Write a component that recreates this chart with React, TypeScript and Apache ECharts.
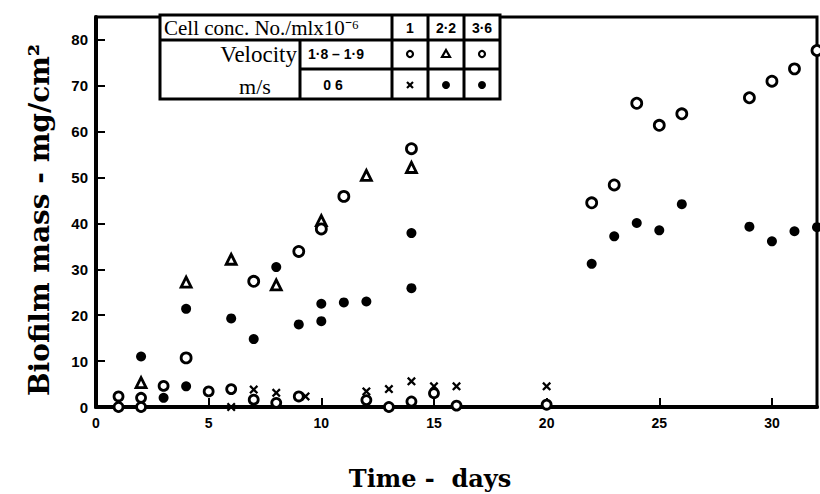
import React, { useEffect, useRef } from "react";
import * as echarts from "echarts";

// ---- data (day, biofilm mass mg/cm²) ----
const xTicks = [0, 5, 10, 15, 20, 25, 30];
const yTicks = [0, 10, 20, 30, 40, 50, 60, 70, 80];

// velocity 1.8–1.9 m/s, conc 1  (open circles, low)
const highVelConc1: [number, number][] = [
  [1, 2.3], [1, 0], [2, 2], [2, 0], [3, 4.6], [5, 3.4], [6, 3.9], [7, 1.6],
  [8, 0.9], [9, 2.3], [12, 1.5], [13, 0], [14, 1.2], [15, 3], [16, 0.3], [20, 0.5],
];
// velocity 1.8–1.9 m/s, conc 2.2 (open triangles)
const highVelConc22: [number, number][] = [
  [2, 5.3], [4, 27.2], [6, 32.2], [8, 26.6], [10, 40.6], [12, 50.5], [14, 52.2],
];
// velocity 1.8–1.9 m/s, conc 3.6 (open circles, high)
const highVelConc36: [number, number][] = [
  [4, 10.7], [7, 27.4], [9, 33.9], [10, 38.8], [11, 45.9], [14, 56.3], [22, 44.5],
  [23, 48.4], [24, 66.2], [25, 61.4], [26, 63.9], [29, 67.4], [30, 71], [31, 73.7], [32, 77.7],
];
// velocity 0.6 m/s, conc 1 (crosses)
const lowVelConc1: [number, number][] = [
  [6, 0], [7, 3.8], [8, 3.1], [9.3, 2.3], [12, 3.4], [13, 3.9], [14, 5.6], [15, 4.5], [16, 4.5], [20, 4.5],
];
// velocity 0.6 m/s, conc 2.2 (filled circles)
const lowVelConc22: [number, number][] = [
  [2, 11], [3, 2], [4, 4.5], [6, 19.3], [8, 30.5], [10, 22.5], [12, 23], [14, 37.9],
];
// velocity 0.6 m/s, conc 3.6 (filled circles)
const lowVelConc36: [number, number][] = [
  [4, 21.4], [7, 14.8], [9, 18], [10, 18.7], [11, 22.8], [14, 25.9], [22, 31.2], [23, 37.2],
  [24, 40.1], [25, 38.5], [26, 44.2], [29, 39.3], [30, 36.1], [31, 38.3], [32, 39.2],
];

const CROSS =
  "path://M0,1.8L1.8,0L5,3.2L8.2,0L10,1.8L6.8,5L10,8.2L8.2,10L5,6.8L1.8,10L0,8.2L3.2,5Z";

export default function App() {
  const ref = useRef<HTMLDivElement>(null);
  useEffect(() => {
    if (!ref.current) return;
    const chart = echarts.init(ref.current, null, { renderer: "svg", width: 820, height: 494 });
    const openCircle = { color: "#fff", borderColor: "#000", borderWidth: 2.8, opacity: 1 };
    const filled = { color: "#000", opacity: 1 };
    const tickFont = { fontFamily: "Liberation Sans", fontWeight: "bold" as const, color: "#000" };
    const serif = "Liberation Serif";
    const sans = "Liberation Sans";
    const T = 3; // table line width
    const tx0 = 160, tx1 = 500, ty0 = 15, ty1 = 99;
    const colX = [392, 428, 464];
    const colC = [410, 446, 482];
    const row2Y = 54, row3Y = 85;
    const emph = { disabled: true };
    chart.setOption({
      animation: false,
      backgroundColor: "#fff",
      grid: {
        left: 96, right: 2, top: 17, bottom: 87,
        show: true, borderColor: "#000", borderWidth: 3,
      },
      xAxis: {
        type: "value", min: 0, max: 32, interval: 5,
        axisLine: { lineStyle: { color: "#000", width: 4 } },
        axisTick: { inside: true, length: 9, lineStyle: { color: "#000", width: 2 } },
        axisLabel: {
          ...tickFont, fontSize: 14, margin: 9,
          formatter: (v: number) => (xTicks.includes(v) ? String(v) : ""),
        },
        splitLine: { show: false },
      },
      yAxis: {
        type: "value", min: 0, max: 85, interval: 10,
        axisLine: { lineStyle: { color: "#000", width: 4 } },
        axisTick: { inside: true, length: 9, lineStyle: { color: "#000", width: 2 } },
        axisLabel: {
          ...tickFont, fontSize: 15, margin: 8,
          formatter: (v: number) => (yTicks.includes(v) ? String(v) : ""),
        },
        splitLine: { show: false },
      },
      series: [
        { type: "scatter", name: "1.8–1.9 m/s, 1", data: highVelConc1, symbol: "circle", symbolSize: 9, itemStyle: openCircle, clip: false, emphasis: emph },
        { type: "scatter", name: "1.8–1.9 m/s, 2.2", data: highVelConc22, symbol: "triangle", symbolSize: 10, itemStyle: openCircle, clip: false, emphasis: emph },
        { type: "scatter", name: "1.8–1.9 m/s, 3.6", data: highVelConc36, symbol: "circle", symbolSize: 10, itemStyle: openCircle, clip: false, emphasis: emph },
        { type: "scatter", name: "0.6 m/s, 1", data: lowVelConc1, symbol: CROSS, symbolSize: 9, itemStyle: filled, clip: false, emphasis: emph },
        { type: "scatter", name: "0.6 m/s, 2.2", data: lowVelConc22, symbol: "circle", symbolSize: 10, itemStyle: filled, clip: false, emphasis: emph },
        { type: "scatter", name: "0.6 m/s, 3.6", data: lowVelConc36, symbol: "circle", symbolSize: 10, itemStyle: filled, clip: false, emphasis: emph },
      ],
      graphic: [
        // axis titles
        {
          type: "text", x: 39, y: 220, rotation: Math.PI / 2,
          style: {
            text: "Biofilm mass - mg/cm²", fontFamily: "DejaVu Serif", fontWeight: "bold",
            fontSize: 28, fill: "#000", align: "center", verticalAlign: "middle",
          },
        },
        {
          type: "text", x: 430, y: 478,
          style: {
            text: "Time -  days", fontFamily: "DejaVu Serif", fontWeight: "bold",
            fontSize: 24, fill: "#000", align: "center", verticalAlign: "middle",
          },
        },
        // legend table
        {
          type: "rect", z: 10,
          shape: { x: tx0, y: ty0, width: tx1 - tx0, height: ty1 - ty0 },
          style: { fill: "#fff", stroke: "#000", lineWidth: T },
        },
        { type: "line", z: 11, shape: { x1: tx0, y1: 40, x2: tx1, y2: 40 }, style: { stroke: "#000", lineWidth: T } },
        { type: "line", z: 11, shape: { x1: 300, y1: 69, x2: tx1, y2: 69 }, style: { stroke: "#000", lineWidth: T } },
        { type: "line", z: 11, shape: { x1: 300, y1: 40, x2: 300, y2: ty1 }, style: { stroke: "#000", lineWidth: T } },
        ...colX.map((cx) => ({
          type: "line", z: 11, shape: { x1: cx, y1: ty0, x2: cx, y2: ty1 }, style: { stroke: "#000", lineWidth: T },
        })),
        {
          type: "text", z: 12, x: 164, y: 28,
          style: { text: "Cell conc. No./mlx10⁻⁶", fontFamily: serif, fontSize: 21, fill: "#000", align: "left", verticalAlign: "middle" },
        },
        ...["1", "2·2", "3·6"].map((t, i) => ({
          type: "text", z: 12, x: colC[i], y: 28,
          style: { text: t, fontFamily: sans, fontWeight: "bold", fontSize: 14, fill: "#000", align: "center", verticalAlign: "middle" },
        })),
        {
          type: "text", z: 12, x: 297, y: 54,
          style: { text: "Velocity", fontFamily: serif, fontSize: 23, fill: "#000", align: "right", verticalAlign: "middle" },
        },
        {
          type: "text", z: 12, x: 255, y: 86,
          style: { text: "m/s", fontFamily: serif, fontSize: 22, fill: "#000", align: "center", verticalAlign: "middle" },
        },
        {
          type: "text", z: 12, x: 336, y: 54,
          style: { text: "1·8 – 1·9", fontFamily: sans, fontWeight: "bold", fontSize: 14, fill: "#000", align: "center", verticalAlign: "middle" },
        },
        {
          type: "text", z: 12, x: 333, y: 85,
          style: { text: "0 6", fontFamily: sans, fontWeight: "bold", fontSize: 14, fill: "#000", align: "center", verticalAlign: "middle" },
        },
        // legend symbols
        { type: "circle", z: 12, shape: { cx: colC[0], cy: row2Y, r: 3 }, style: { fill: "#fff", stroke: "#000", lineWidth: 2.2 } },
        {
          type: "polygon", z: 12,
          shape: { points: [[colC[1], row2Y - 4], [colC[1] + 4, row2Y + 3], [colC[1] - 4, row2Y + 3]] },
          style: { fill: "#fff", stroke: "#000", lineWidth: 2.2 },
        },
        { type: "circle", z: 12, shape: { cx: colC[2], cy: row2Y, r: 3 }, style: { fill: "#fff", stroke: "#000", lineWidth: 2.2 } },
        { type: "line", z: 12, shape: { x1: colC[0] - 3, y1: row3Y - 3, x2: colC[0] + 3, y2: row3Y + 3 }, style: { stroke: "#000", lineWidth: 2.2 } },
        { type: "line", z: 12, shape: { x1: colC[0] + 3, y1: row3Y - 3, x2: colC[0] - 3, y2: row3Y + 3 }, style: { stroke: "#000", lineWidth: 2.2 } },
        { type: "circle", z: 12, shape: { cx: colC[1], cy: row3Y, r: 4 }, style: { fill: "#000" } },
        { type: "circle", z: 12, shape: { cx: colC[2], cy: row3Y, r: 4 }, style: { fill: "#000" } },
      ],
    });
    return () => chart.dispose();
  }, []);
  return (
    <div
      ref={ref}
      style={{ position: "absolute", left: 0, top: 0, width: 820, height: 494, background: "#fff" }}
    />
  );
}
